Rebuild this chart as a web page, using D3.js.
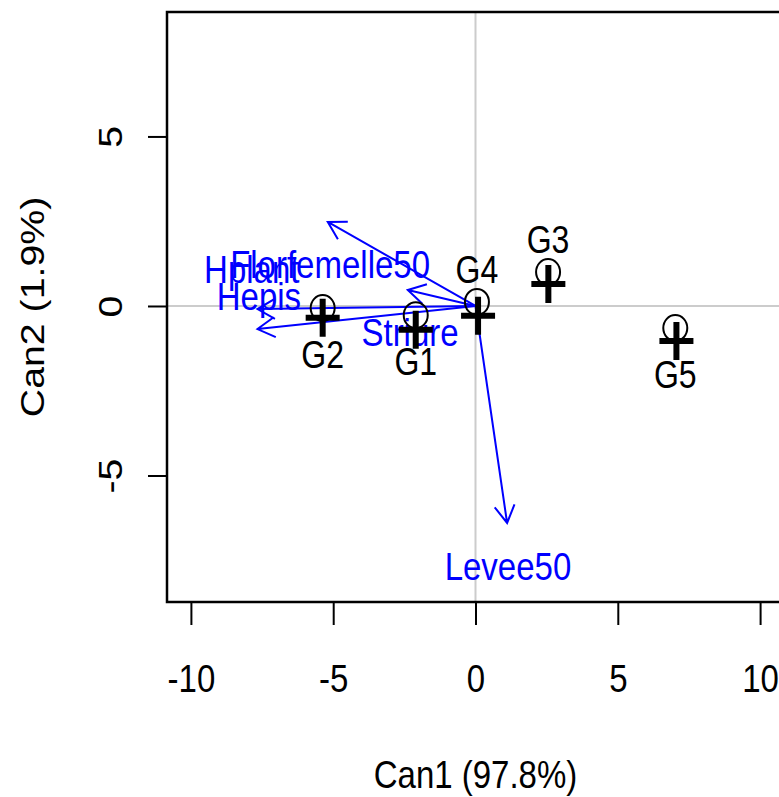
<!DOCTYPE html>
<meta charset="utf-8">
<title>Canonical discriminant plot</title>
<style>

body {
  margin: 0;
  background-color: white;
}

text {
  font-family: "Liberation Sans", Arial, sans-serif;
}

</style>
<body>
<script src="https://cdn.jsdelivr.net/npm/d3@7"></script>
<script>

// group means in canonical space
var groups = ["G1", "G2", "G3", "G4", "G5"],
    meanX = [-2.10, -5.37, 2.55, 0.05, 7.02],
    meanY = [-0.27, -0.06, 1.00, 0.12, -0.65],
    plusX = [-2.10, -5.37, 2.56, 0.09, 7.06],
    plusY = [-0.70, -0.35, 0.65, -0.29, -1.03];

// structure vectors
var vars = ["Hplant", "Florfemelle50", "Hepis", "Striure", "Levee50"],
    vecX = [-7.66, -5.19, -7.66, -2.38, 1.11],
    vecY = [-0.68, 2.48, -0.09, 0.47, -6.40],
    varLabX = [-7.86, -5.11, -7.61, -2.30, 1.14],
    varLabY = [1.09, 1.24, 0.29, -0.77, -7.67];

var xTicks = [-10, -5, 0, 5, 10],
    yTicks = [-5, 0, 5];

var width = 779,
    height = 797,
    plotLeft = 167,
    plotRight = 784,
    plotTop = 12,
    plotBottom = 602,
    stretch = 1.19;

var x = d3.scaleLinear().domain([-10.84, 10.84]).range([plotLeft, plotRight]),
    y = d3.scaleLinear().domain([8.67, -8.73]).range([plotTop, plotBottom]);

var svg = d3.select("body").append("svg")
    .attr("width", width)
    .attr("height", height);

// reference lines
svg.append("line")
    .attr("x1", x(0)).attr("x2", x(0))
    .attr("y1", plotTop).attr("y2", plotBottom)
    .style("stroke", "#cccccc").style("stroke-width", 2);
svg.append("line")
    .attr("x1", plotLeft).attr("x2", plotRight)
    .attr("y1", y(0)).attr("y2", y(0))
    .style("stroke", "#cccccc").style("stroke-width", 2);

// axes
var xAxis = svg.append("g")
    .attr("transform", "translate(0," + plotBottom + ")")
    .call(d3.axisBottom(x).tickValues(xTicks).tickSize(23).tickFormat(d3.format("d")));
var yAxis = svg.append("g")
    .attr("transform", "translate(" + plotLeft + ",0)")
    .call(d3.axisLeft(y).tickValues(yTicks).tickSize(19).tickFormat(d3.format("d")));

[xAxis, yAxis].forEach(function(g) {
  g.select(".domain").remove();
  g.selectAll(".tick line").style("stroke", "black").style("stroke-width", 2);
  g.selectAll(".tick text").remove();
});

xAxis.selectAll(".tick").append("text")
    .attr("transform", "translate(0,76) scale(1," + stretch + ")")
    .attr("dy", "0.36em")
    .attr("text-anchor", "middle")
    .style("font-size", "33px")
    .style("fill", "black")
    .text(function(d) { return d; });

yAxis.selectAll(".tick").append("text")
    .attr("transform", "translate(-57,0) scale(1," + stretch + ") rotate(-90)")
    .attr("dy", "0.36em")
    .attr("text-anchor", "middle")
    .style("font-size", "33px")
    .style("fill", "black")
    .text(function(d) { return d; });

// plot box
svg.append("rect")
    .attr("x", plotLeft).attr("y", plotTop)
    .attr("width", plotRight - plotLeft).attr("height", plotBottom - plotTop)
    .style("fill", "none").style("stroke", "black").style("stroke-width", 2.5);

// axis titles
svg.append("text")
    .attr("transform", "translate(" + x(0) + ",774) scale(1," + stretch + ")")
    .attr("dy", "0.36em")
    .attr("text-anchor", "middle")
    .style("font-size", "33px")
    .text("Can1 (97.8%)");

svg.append("text")
    .attr("transform", "translate(32," + (plotTop + plotBottom) / 2 + ") scale(1," + stretch + ") rotate(-90)")
    .attr("dy", "0.36em")
    .attr("text-anchor", "middle")
    .style("font-size", "33px")
    .text("Can2 (1.9%)");

// structure arrows
var ox = x(0), oy = y(0), head = 20;

var vec = svg.append("g").selectAll("g")
    .data(d3.range(vars.length))
  .enter().append("g");

vec.append("path")
    .attr("d", function(i) {
      var tx = x(vecX[i]), ty = y(vecY[i]),
          a = Math.atan2(ty - oy, tx - ox),
          a1 = a + Math.PI - Math.PI / 6,
          a2 = a + Math.PI + Math.PI / 6;
      return "M" + ox + "," + oy + "L" + tx + "," + ty +
          "M" + (tx + head * Math.cos(a1)) + "," + (ty + head * Math.sin(a1)) +
          "L" + tx + "," + ty +
          "L" + (tx + head * Math.cos(a2)) + "," + (ty + head * Math.sin(a2));
    })
    .style("fill", "none")
    .style("stroke", "#0000ff")
    .style("stroke-width", 2);

vec.append("text")
    .attr("transform", function(i) {
      return "translate(" + x(varLabX[i]) + "," + y(varLabY[i]) + ") scale(1," + stretch + ")";
    })
    .attr("dy", "0.36em")
    .attr("text-anchor", "middle")
    .style("font-size", "33px")
    .style("fill", "#0000ff")
    .text(function(i) { return vars[i]; });

// group means
var grp = svg.append("g").selectAll("g")
    .data(d3.range(groups.length))
  .enter().append("g");

grp.append("ellipse")
    .attr("cx", function(i) { return x(meanX[i]); })
    .attr("cy", function(i) { return y(meanY[i]); })
    .attr("rx", 12)
    .attr("ry", 13)
    .style("fill", "none")
    .style("stroke", "black")
    .style("stroke-width", 2);

grp.append("path")
    .attr("d", function(i) {
      var cx = x(plusX[i]), cy = y(plusY[i]);
      return "M" + (cx - 17) + "," + cy + "H" + (cx + 17) +
          "M" + cx + "," + (cy - 19) + "V" + (cy + 19);
    })
    .style("stroke", "black")
    .style("stroke-width", 6);

grp.append("text")
    .attr("transform", function(i) {
      var off = meanY[i] > 0 ? -33 : 46;
      return "translate(" + x(meanX[i]) + "," + (y(meanY[i]) + off) + ") scale(1," + stretch + ")";
    })
    .attr("dy", "0.36em")
    .attr("text-anchor", "middle")
    .style("font-size", "32px")
    .style("fill", "black")
    .text(function(i) { return groups[i]; });

</script>
